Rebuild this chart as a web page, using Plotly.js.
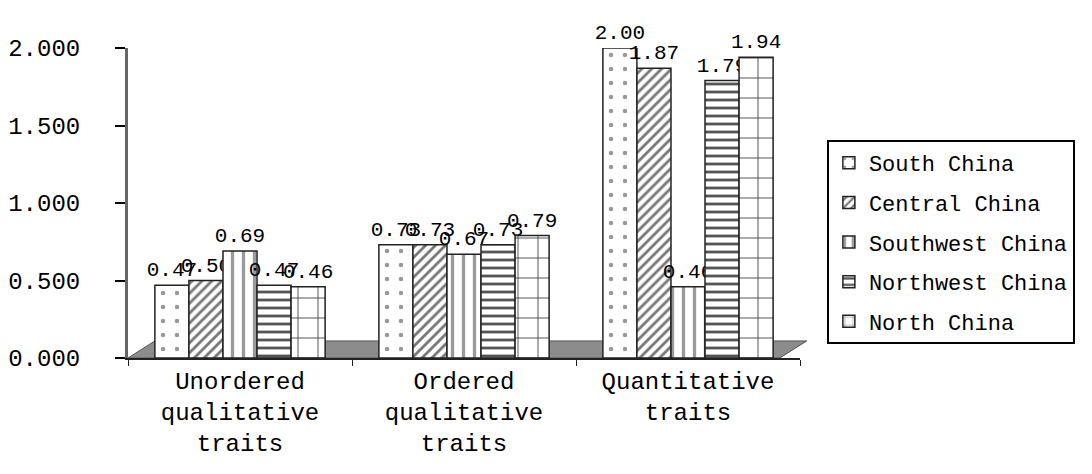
<!DOCTYPE html>
<html>
<head>
<meta charset="utf-8">
<script src="https://cdn.plot.ly/plotly-3.0.1.min.js"></script>
<style>html,body{margin:0;padding:0;background:#fff;}#chart{width:1092px;height:474px;}</style>
</head>
<body>
<div id="chart"></div>
<script>
const categories = ["Unordered<br>qualitative<br>traits", "Ordered<br>qualitative<br>traits", "Quantitative<br>traits"];
const seriesNames = ["South China", "Central China", "Southwest China", "Northwest China", "North China"];
const southChina = [0.47, 0.73, 2.00];
const centralChina = [0.50, 0.73, 1.87];
const southwestChina = [0.69, 0.67, 0.46];
const northwestChina = [0.47, 0.73, 1.79];
const northChina = [0.46, 0.79, 1.94];
const yTicks = [0, 0.5, 1, 1.5, 2];

const seriesValues = [southChina, centralChina, southwestChina, northwestChina, northChina];
const patterns = [
  {shape: ".", fgcolor: "#999999", bgcolor: "#ffffff", size: 14, solidity: 0.08},
  {shape: "/", fgcolor: "#777777", bgcolor: "#ffffff", size: 7, solidity: 0.4},
  {shape: "|", fgcolor: "#9a9a9a", bgcolor: "#ffffff", size: 11, solidity: 0.3},
  {shape: "-", fgcolor: "#555555", bgcolor: "#ffffff", size: 8, solidity: 0.35},
  {shape: "+", fgcolor: "#333333", bgcolor: "#ffffff", size: 20, solidity: 0.08}
];
const FONT = "Liberation Mono, DejaVu Sans Mono, monospace";

const traces = seriesNames.map((name, i) => ({
  type: "bar",
  name: name,
  x: categories,
  y: seriesValues[i],
  legendgroup: "g" + i,
  marker: {color: "#ffffff", pattern: patterns[i], line: {color: "#222222", width: 1.5}},
  text: seriesValues[i].map(v => v.toFixed(2)),
  textposition: "outside",
  textfont: {family: FONT, size: 21, color: "#000"},
  constraintext: "none",
  cliponaxis: false,
  hoverinfo: "skip"
}));

const layout = {
  width: 1092, height: 474,
  margin: {l: 128, r: 292, t: 48, b: 116},
  paper_bgcolor: "#ffffff",
  plot_bgcolor: "#ffffff",
  font: {family: FONT, size: 24, color: "#000"},
  barmode: "group",
  bargap: 0.24,
  bargroupgap: 0,
  showlegend: true,
  legend: {
    x: 1.04, xanchor: "left", y: 0.703, yanchor: "top",
    bgcolor: "#ffffff", bordercolor: "#000000", borderwidth: 2,
    font: {family: FONT, size: 22, color: "#000"},
    tracegroupgap: 8, itemwidth: 30
  },
  xaxis: {
    type: "category",
    showline: true, linecolor: "#222", linewidth: 2,
    ticks: "outside", tickson: "boundaries", ticklen: 6, tickcolor: "#222",
    tickfont: {family: FONT, size: 24},
    showgrid: false, zeroline: false
  },
  yaxis: {
    range: [0, 2], tickvals: yTicks, ticktext: yTicks.map(v => v.toFixed(3)),
    showline: true, linecolor: "#666", linewidth: 3,
    ticks: "outside", ticklen: 10, tickcolor: "#000", tickwidth: 2,
    tickfont: {family: FONT, size: 24}, ticklabelstandoff: 30,
    showgrid: false, zeroline: false
  },
  shapes: [{
    type: "path", xref: "paper", yref: "paper", layer: "below",
    path: "M 0,0 L 0.97,0 L 1.01,0.055 L 0.04,0.055 Z",
    fillcolor: "#8c8c8c", line: {color: "#555", width: 1}
  }]
};

Plotly.newPlot("chart", traces, layout, {displayModeBar: false, staticPlot: true});
</script>
</body>
</html>
